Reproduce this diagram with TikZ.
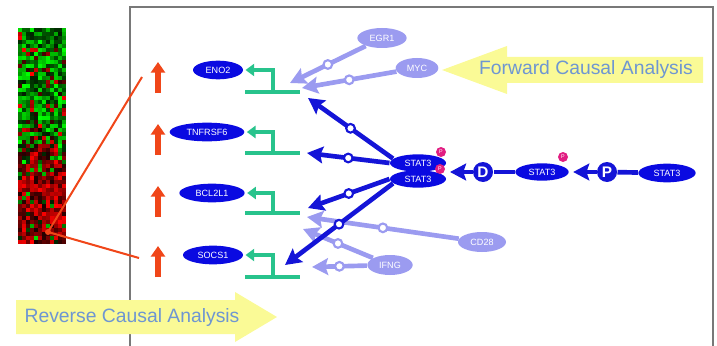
\documentclass[tikz,border=0pt]{standalone}
\usepackage{fontspec}
\setmainfont{Liberation Sans}
\usetikzlibrary{arrows.meta,shapes.geometric}

\definecolor{geneblue}{RGB}{10,10,225}
\definecolor{arrowblue}{RGB}{20,20,215}
\definecolor{lavender}{RGB}{155,155,240}
\definecolor{bracketgreen}{RGB}{40,195,140}
\definecolor{uporange}{RGB}{240,70,25}
\definecolor{arrowyellow}{RGB}{250,250,150}
\definecolor{labelblue}{RGB}{110,150,210}
\definecolor{pinkmark}{RGB}{225,30,130}
\definecolor{framegray}{RGB}{120,120,120}

\tikzset{every picture/.style={line width=0.75pt}}
\tikzset{
  gene/.style={ellipse, fill=geneblue, text=white, inner sep=0pt, minimum height=14pt, font=\fontsize{6.8}{7}\selectfont},
  regul/.style={ellipse, fill=lavender, text=white, inner sep=0pt, minimum height=15pt, font=\fontsize{6.8}{7}\selectfont},
  modcirc/.style={circle, fill=arrowblue, text=white, inner sep=0pt, minimum size=15pt, font=\bfseries\fontsize{11.5}{11.5}\selectfont},
  pmark/.style={circle, fill=pinkmark, text=white, inner sep=0pt, minimum size=7.5pt, font=\fontsize{4}{4}\selectfont},
  bigcaption/.style={text=labelblue, inner sep=0pt, font=\fontsize{14.5}{16}\selectfont},
  barrow/.style={draw=arrowblue, line width=3.5pt, -{Stealth[length=12pt,width=12.5pt,inset=2pt]}},
  bline/.style={draw=arrowblue, line width=3.5pt},
  lavarrow/.style={draw=lavender, line width=3.5pt, -{Stealth[length=12pt,width=12.5pt,inset=2pt]}},
  bdot/.style={circle, draw=arrowblue, fill=white, line width=1.6pt, minimum size=6.5pt, inner sep=0pt},
  lavdot/.style={circle, draw=lavender, fill=white, line width=1.6pt, minimum size=6.5pt, inner sep=0pt},
  gbar/.style={draw=bracketgreen, line width=3pt},
  garrow/.style={draw=bracketgreen, line width=3pt, -{Triangle[length=6.5pt,width=9pt]}, shorten >=1.5pt},
  uparrow/.style={draw=uporange, line width=4.5pt, -{Triangle[length=8pt,width=10.5pt]}},
  heatline/.style={draw=uporange, line width=1.5pt}
}

\begin{document}
\begin{tikzpicture}[x=0.75pt,y=0.75pt,yscale=-1,xscale=1]
\useasboundingbox (0,0) rectangle (717,346);

% Heat map
\pgfmathsetseed{11}
\foreach \r in {0,...,53}{
  \foreach \c in {0,...,11}{
    \pgfmathtruncatemacro{\pth}{\r<22 ? 15 : min(92,15+(\r-22)*5)}
    \pgfmathrandominteger{\v}{0}{99}
    \pgfmathrandominteger{\s}{10}{100}
    \ifnum\v<\pth \def\hc{red}\else\def\hc{green}\fi
    \fill[\hc!\s!black] (18+\c*4,28+\r*4) rectangle ++(4,4);
  }
}

% Frame
\draw[framegray, line width=1.1pt] (130,346) -- (130,7) -- (713,7) -- (713,346);

% Yellow arrows
\fill[arrowyellow] (703,57) -- (507,57) -- (507,46) -- (442,70) -- (507,94) -- (507,83) -- (703,83) -- cycle;
\node[bigcaption] (fwd) at (586,70) {Forward Causal Analysis};
\fill[arrowyellow] (16,300) -- (235,300) -- (235,292) -- (277,317) -- (235,342) -- (235,334) -- (16,334) -- cycle;
\node[bigcaption] (rev) at (132,317) {Reverse Causal Analysis};

% Lines from the heat map
\coordinate (hot) at (48,232);
\coordinate (upE) at (142,77);
\coordinate (upS) at (139,258);
\draw[heatline] (hot) -- (upE);
\draw[heatline] (hot) -- (upS);
\fill[uporange] (hot) circle [radius=3];

% Up arrows
\foreach \yb in {93,155,217,277}
  \draw[uparrow] (158,\yb) -- ++(0,-31);

% Target genes
\node[gene, minimum width=37.5pt] (eno2) at (218,70) {ENO2};
\node[gene, minimum width=56pt] (tnfrsf6) at (207,132) {TNFRSF6};
\node[gene, minimum width=49pt] (bcl2l1) at (212,193) {BCL2L1};
\node[gene, minimum width=45pt] (socs1) at (213,255) {SOCS1};

% Brackets
\foreach \g/\yb in {eno2/92, tnfrsf6/153, bcl2l1/213, socs1/277}{
  \draw[gbar] (245,\yb) -- (300,\yb);
  \draw[garrow] (273,\yb) |- (\g.east);
}

% Regulators
\node[regul, minimum width=37pt] (egr1) at (382,38) {EGR1};
\node[regul, minimum width=32pt] (myc) at (417,68) {MYC};
\node[regul, minimum width=36pt] (cd28) at (482,242) {CD28};
\node[regul, minimum width=34pt] (ifng) at (390,265) {IFNG};

% STAT3 forms
\node[gene, minimum width=42pt, minimum height=13pt] (dimA) at (418,163) {STAT3};
\node[gene, minimum width=42pt, minimum height=13pt] (dimB) at (418,179) {STAT3};
\node[gene, minimum width=40pt, minimum height=13pt] (stat3p) at (542,172) {STAT3};
\node[gene, minimum width=43pt] (stat3r) at (667,173) {STAT3};
\node[pmark] (pA) at (441,152) {P};
\node[pmark] (pB) at (440,169) {P};
\node[pmark] (pC) at (563,157) {P};
\node[modcirc] (dmod) at (483,172) {D};
\node[modcirc] (pmod) at (607,172) {P};
\coordinate (dimtip) at (450,172);

% Arrow tips at the brackets
\coordinate (tipEgr) at (290,83);
\coordinate (tipMyc) at (302,88);
\coordinate (tipCd) at (307,217);
\coordinate (tipIfA) at (303,229);
\coordinate (tipIfB) at (312,267);
\coordinate (tipE) at (308,98);
\coordinate (tipT) at (307,153);
\coordinate (tipB) at (308,208);
\coordinate (tipS) at (285,265);

% Regulator arrows
\draw[lavarrow] (egr1) -- node[lavdot]{} (tipEgr);
\draw[lavarrow] (myc) -- node[lavdot]{} (tipMyc);
\draw[lavarrow] (cd28) -- node[lavdot]{} (tipCd);
\draw[lavarrow] (ifng) -- node[lavdot]{} (tipIfA);
\draw[lavarrow] (ifng) -- node[lavdot]{} (tipIfB);

% STAT3 arrows
\draw[barrow] (dimA.170) -- node[bdot]{} (tipE);
\draw[barrow] (dimA.west) -- node[bdot]{} (tipT);
\draw[barrow] (dimB.west) -- node[bdot]{} (tipB);
\draw[barrow] (dimB.190) -- node[bdot]{} (tipS);

\draw[bline] (stat3p) -- (dmod);
\draw[barrow] (dmod) -- (dimtip);
\draw[bline] (stat3r) -- (pmod);
\draw[barrow, shorten >=3pt] (pmod) -- (stat3p);

\end{tikzpicture}
\end{document}
